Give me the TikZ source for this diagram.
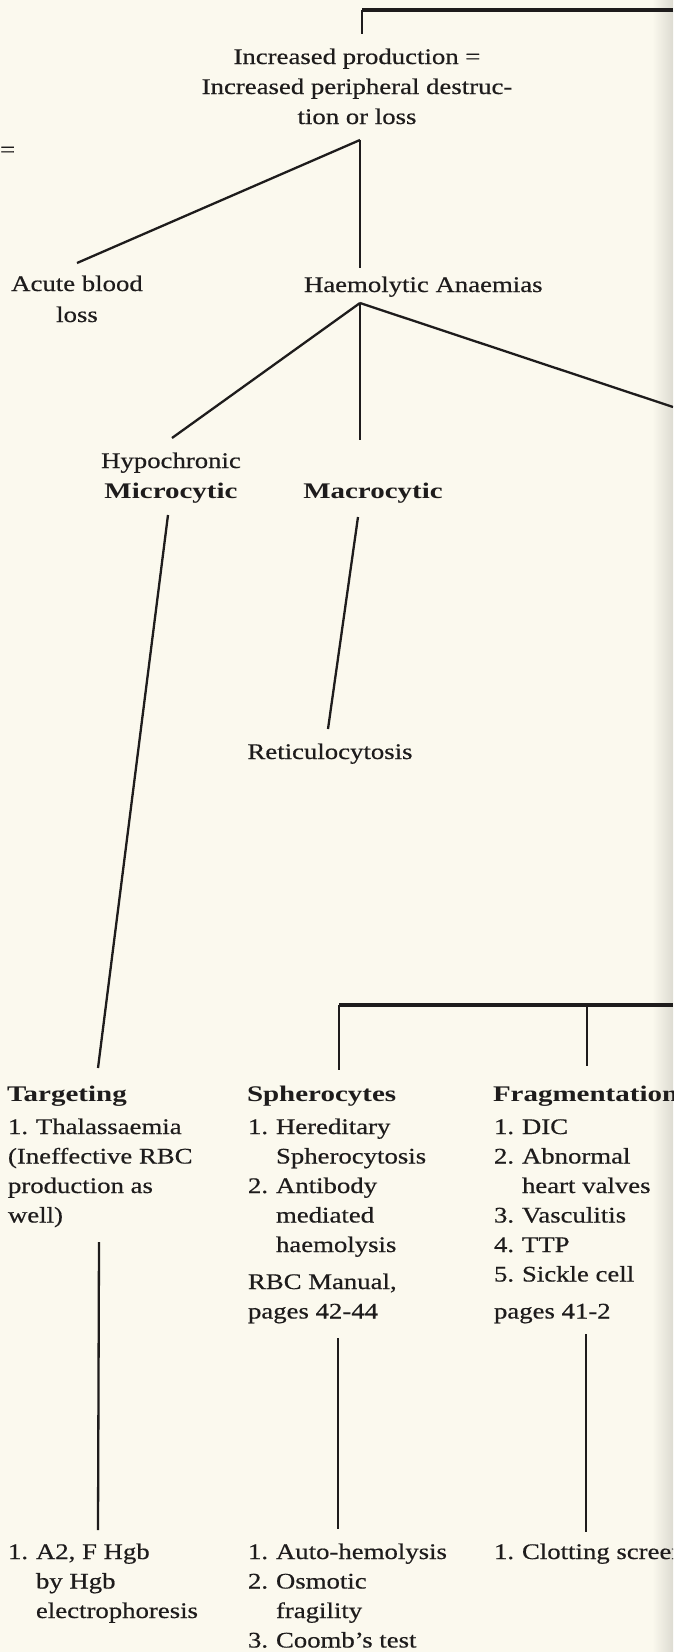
\documentclass[tikz,border=0pt]{standalone}
\usepackage{fontspec}
\setmainfont{Liberation Serif}[FakeStretch=1.2, FakeBold=0.5]
\newfontfamily\hdfont{Liberation Serif}[FakeStretch=1.3]
\definecolor{paper}{RGB}{251,249,238}
\definecolor{ink}{RGB}{30,28,28}
\tikzset{
  lbl/.style={inner sep=0pt, outer sep=0pt, text=ink, font=\fontsize{22.3}{29.5}\selectfont},
  hd/.style={lbl, font=\fontsize{22.3}{29.5}\selectfont\hdfont\bfseries},
  conn/.style={draw=ink, line width=2.3pt},
  bar/.style={draw=ink, line width=3.4pt},
}
\newcommand{\lab}[1]{\makebox[28pt][l]{#1}}
\newcommand{\hang}{\hspace*{28pt}}
\begin{document}
\begin{tikzpicture}[x=1pt,y=-1pt]
\clip (0,0) rectangle (673,1652);
\fill[paper] (0,0) rectangle (673,1652);
\fill[left color=paper, right color=paper!88!black] (652,0) rectangle (673,1652);

% ---- text ----
\node[lbl, anchor=base] (top) at (357,64) {\parbox[t]{380pt}{\centering\fontsize{22.3}{30}\selectfont Increased production =\\Increased peripheral destruc-\\tion or loss}};
\node[lbl, anchor=base west] (eq) at (0,157) {=};
\node[lbl, anchor=base] (acute) at (77,291) {\parbox[t]{160pt}{\centering\fontsize{22.3}{31}\selectfont Acute blood\\loss}};
\node[lbl, anchor=base west] (haem) at (304,292) {Haemolytic Anaemias};
\node[lbl, anchor=base] (micro) at (171,468) {\parbox[t]{180pt}{\centering\fontsize{22.3}{30}\selectfont Hypochronic\\{\hdfont\bfseries Microcytic}}};
\node[hd, anchor=base] (macro) at (373,498) {Macrocytic};
\node[lbl, anchor=base] (retic) at (330,759) {Reticulocytosis};

\node[hd, anchor=base west] (target) at (7,1101) {Targeting};
\node[hd, anchor=base west] (sphero) at (247,1101) {Spherocytes};
\node[hd, anchor=base west] (frag) at (493,1101) {Fragmentation};

\node[lbl, anchor=base west] (tlist) at (8,1134) {\parbox[t]{225pt}{\raggedright\lab{1.}Thalassaemia\\(Ineffective RBC\\production as\\well)}};
\node[lbl, anchor=base west] (slist) at (248,1134) {\parbox[t]{235pt}{\raggedright\lab{1.}Hereditary\\\hang Spherocytosis\\\lab{2.}Antibody\\\hang mediated\\\hang haemolysis\\[7.5pt]RBC Manual,\\pages 42-44}};
\node[lbl, anchor=base west] (flist) at (494,1134) {\parbox[t]{235pt}{\raggedright\lab{1.}DIC\\\lab{2.}Abnormal\\\hang heart valves\\\lab{3.}Vasculitis\\\lab{4.}TTP\\\lab{5.}Sickle cell\\[7.5pt]pages 41-2}};

\node[lbl, anchor=base west] (ttest) at (8,1559) {\parbox[t]{225pt}{\raggedright\lab{1.}A2, F Hgb\\\hang by Hgb\\\hang electrophoresis}};
\node[lbl, anchor=base west] (stest) at (248,1559) {\parbox[t]{235pt}{\raggedright\lab{1.}Auto-hemolysis\\\lab{2.}Osmotic\\\hang fragility\\\lab{3.}Coomb’s test}};
\node[lbl, anchor=base west] (ftest) at (494,1559) {\lab{1.}Clotting screen};

% ---- connector points ----
\coordinate (topR) at (673,10);
\coordinate (topC) at (362,10);
\coordinate (topV) at (362,34);
\coordinate (apex1) at (360,140);
\coordinate (acuteEnd) at (77,263);
\coordinate (haemEnd) at (360,268);
\coordinate (apex2) at (360,303);
\coordinate (microEnd) at (172,438);
\coordinate (macroEnd) at (360,440);
\coordinate (rightEnd) at (673,407);
\coordinate (microA) at (168,515);
\coordinate (targetEnd) at (98,1068);
\coordinate (macroA) at (358,517);
\coordinate (reticEnd) at (328,729);
\coordinate (barL) at (339,1005);
\coordinate (barR) at (673,1005);
\coordinate (barM) at (587,1005);
\coordinate (spheroEnd) at (339,1070);
\coordinate (fragEnd) at (587,1066);
\coordinate (tA) at (99,1242);
\coordinate (tB) at (98,1530);
\coordinate (sA) at (338,1338);
\coordinate (sB) at (338,1529);
\coordinate (fA) at (586,1334);
\coordinate (fB) at (586,1532);

% ---- connectors ----
\draw[bar] (topR) -- (topC);
\draw[conn] (topC) -- (topV);
\draw[conn] (apex1) -- (acuteEnd);
\draw[conn] (apex1) -- (haemEnd);
\draw[conn] (apex2) -- (microEnd);
\draw[conn] (apex2) -- (macroEnd);
\draw[conn] (apex2) -- (rightEnd);
\draw[conn] (microA) -- (targetEnd);
\draw[conn] (macroA) -- (reticEnd);
\draw[bar] (barL) -- (barR);
\draw[conn] (barL) -- (spheroEnd);
\draw[conn] (barM) -- (fragEnd);
\draw[conn] (tA) -- (tB);
\draw[conn] (sA) -- (sB);
\draw[conn] (fA) -- (fB);
\end{tikzpicture}
\end{document}
